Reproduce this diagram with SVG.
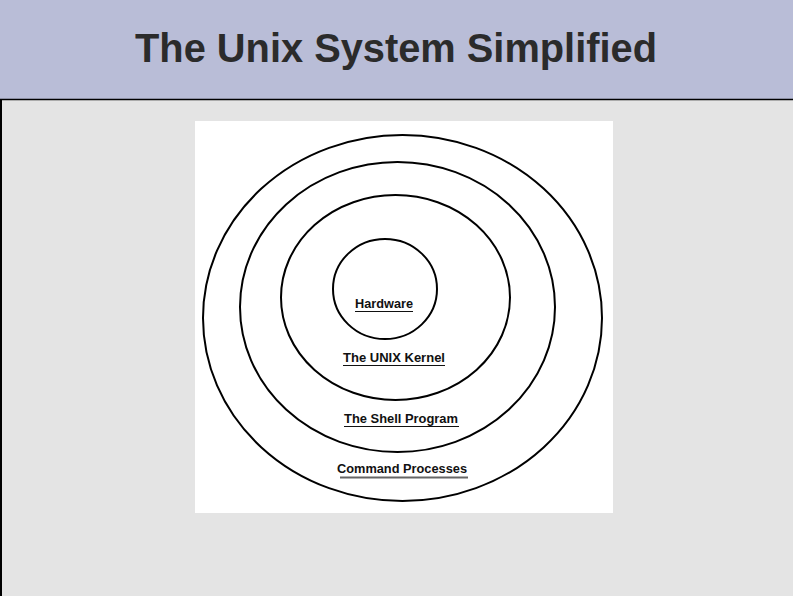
<svg xmlns="http://www.w3.org/2000/svg" width="793" height="596" viewBox="0 0 793 596">
<style>
.ring{fill:none;stroke:#000;stroke-width:2}
.lbl{font-family:"Liberation Sans",Arial,sans-serif;font-weight:bold;font-size:12px;fill:#111;text-anchor:middle}
.ul{stroke:#111;stroke-width:1.2}
</style>
<rect x="0" y="0" width="793" height="596" fill="#e4e4e4"/>
<rect x="0" y="0" width="793" height="99" fill="#b9bdd7"/>
<line x1="0" y1="99.5" x2="793" y2="99.5" stroke="#000" stroke-width="1.5"/>
<line x1="1" y1="99" x2="1" y2="596" stroke="#000" stroke-width="2"/>
<text x="396" y="62" font-family="'Liberation Sans',Arial,sans-serif" font-weight="bold" font-size="40" fill="#2b2b2b" text-anchor="middle" textLength="522" lengthAdjust="spacingAndGlyphs">The Unix System Simplified</text>
<rect x="195" y="121" width="418" height="392" fill="#fff"/>
<g id="outer"><ellipse class="ring" cx="402.5" cy="318" rx="199.5" ry="183"/>
<text class="lbl" x="402" y="473" textLength="130" lengthAdjust="spacingAndGlyphs">Command Processes</text>
<line x1="340" y1="477.5" x2="468" y2="477.5" stroke="#666" stroke-width="2"/></g>
<g id="shell"><ellipse class="ring" cx="397.5" cy="307" rx="157.5" ry="145"/>
<text class="lbl" x="401" y="423" textLength="114" lengthAdjust="spacingAndGlyphs">The Shell Program</text>
<line class="ul" x1="344" y1="426.5" x2="459" y2="426.5"/></g>
<g id="kernel"><ellipse class="ring" cx="395.5" cy="297.5" rx="114.5" ry="102.5"/>
<text class="lbl" x="394" y="362" textLength="102" lengthAdjust="spacingAndGlyphs">The UNIX Kernel</text>
<line class="ul" x1="343" y1="365.5" x2="445" y2="365.5"/></g>
<g id="hardware"><ellipse class="ring" cx="385" cy="289" rx="52" ry="50"/>
<text class="lbl" x="384" y="308" textLength="58" lengthAdjust="spacingAndGlyphs">Hardware</text>
<line class="ul" x1="355" y1="311.5" x2="413" y2="311.5"/></g>
<g id="connectors"/>
</svg>
